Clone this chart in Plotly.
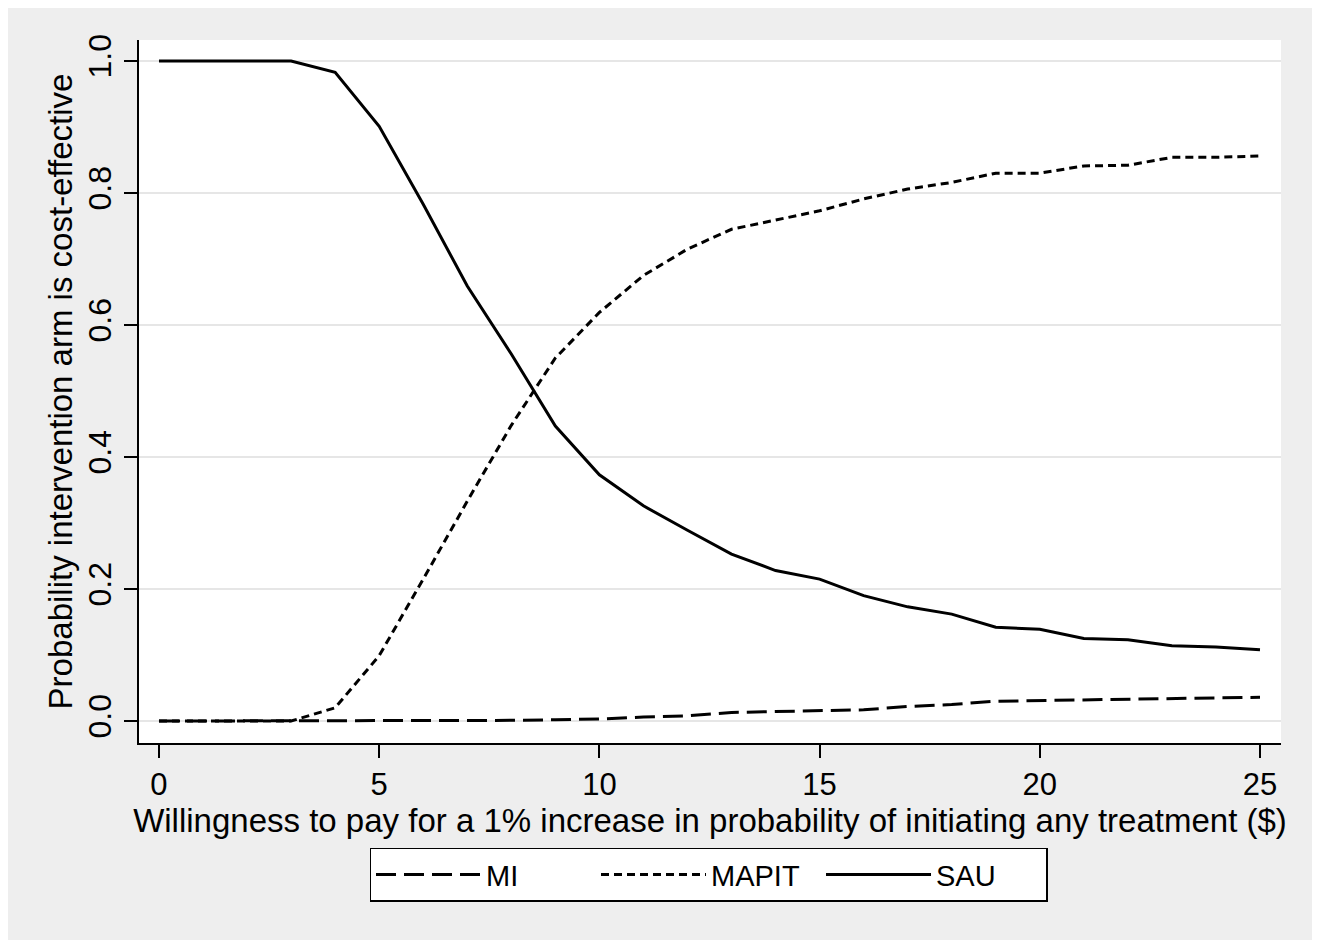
import plotly.graph_objects as go

# Willingness to pay ($)
wtp = list(range(0, 26))

mi = [0.0, 0.0, 0.0, 0.0, 0.0, 0.0, 0.0, 0.0, 0.001, 0.002, 0.003, 0.006, 0.008,
      0.013, 0.014, 0.015, 0.017, 0.022, 0.025, 0.030, 0.031, 0.032, 0.032, 0.033,
      0.034, 0.036]
mapit = [0.0, 0.0, 0.0, 0.0, 0.020, 0.099, 0.215, 0.333, 0.448, 0.550, 0.619, 0.675,
         0.715, 0.745, 0.759, 0.773, 0.791, 0.806, 0.816, 0.830, 0.830, 0.841, 0.842,
         0.854, 0.854, 0.856]
sau = [1.0, 1.0, 1.0, 1.0, 0.983, 0.901, 0.783, 0.659, 0.556, 0.447, 0.373, 0.326,
       0.289, 0.253, 0.228, 0.215, 0.190, 0.173, 0.162, 0.142, 0.139, 0.125, 0.123,
       0.114, 0.112, 0.108]

series_names = ["MI", "MAPIT", "SAU"]
x_ticks = [0, 5, 10, 15, 20, 25]
y_ticks = [0.0, 0.2, 0.4, 0.6, 0.8, 1.0]
y_tick_labels = ["0.0", "0.2", "0.4", "0.6", "0.8", "1.0"]

FONT = "Arial, 'Liberation Sans', sans-serif"

fig = go.Figure()
fig.add_trace(go.Scatter(x=wtp, y=mi, mode="lines", name=series_names[0],
                         line=dict(color="black", width=3, dash="20px,8px")))
fig.add_trace(go.Scatter(x=wtp, y=mapit, mode="lines", name=series_names[1],
                         line=dict(color="black", width=3, dash="8px,5px")))
fig.add_trace(go.Scatter(x=wtp, y=sau, mode="lines", name=series_names[2],
                         line=dict(color="black", width=3)))

fig.update_layout(
    width=1304, height=932,
    margin=dict(l=131, r=31, t=32, b=197),
    paper_bgcolor="#eeeeee",
    plot_bgcolor="white",
    font=dict(family=FONT, color="black"),
    showlegend=True,
    legend=dict(
        orientation="h", x=0.4987, xanchor="center", y=-0.149, yanchor="top",
        bgcolor="white", bordercolor="black", borderwidth=1.5,
        font=dict(size=29, family=FONT, color="black"),
        itemwidth=105, entrywidth=105, entrywidthmode="pixels",
        traceorder="normal",
    ),
    xaxis=dict(
        range=[-0.454, 25.477], tickvals=x_ticks, ticks="outside", ticklen=13,
        tickwidth=2, tickcolor="black", showline=True, linecolor="black",
        linewidth=2, showgrid=False, zeroline=False,
        tickfont=dict(size=31, family=FONT),
        title=dict(text="Willingness to pay for a 1% increase in probability of initiating any treatment ($)",
                   font=dict(size=33, family=FONT), standoff=0),
    ),
    yaxis=dict(
        range=[-0.0333, 1.0318], tickvals=y_ticks, ticktext=y_tick_labels,
        ticks="outside", ticklen=13, tickwidth=2, tickcolor="black",
        showline=True, linecolor="black", linewidth=2,
        showgrid=True, gridcolor="#e6e6e6", gridwidth=2, zeroline=False,
        tickangle=-90, tickfont=dict(size=32, family=FONT),
        title=dict(text="Probability intervention arm is cost-effective",
                   font=dict(size=33, family=FONT), standoff=0),
    ),
)

fig.write_html("out.html")
